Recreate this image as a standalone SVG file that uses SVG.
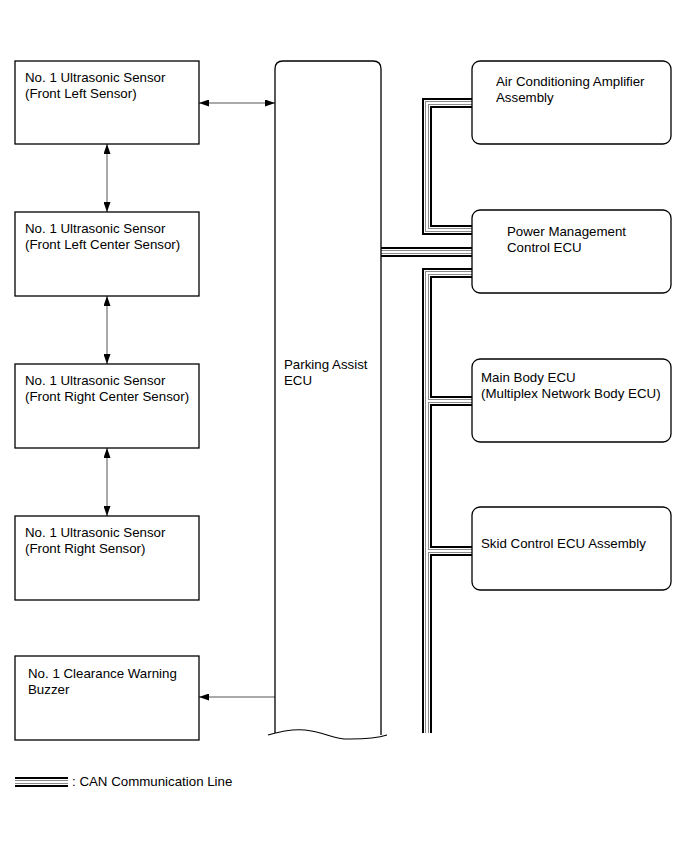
<svg xmlns="http://www.w3.org/2000/svg" xmlns:xlink="http://www.w3.org/1999/xlink" width="689" height="853" viewBox="0 0 689 853">
<style>
.box{fill:#fff;stroke:#000;stroke-width:1.3}
.t{font-family:"Liberation Sans",Arial,sans-serif;font-size:13.3px;fill:#000}
.arr{stroke:#555;stroke-width:1;fill:none;marker-start:url(#ah);marker-end:url(#ah)}
.arr1{stroke:#555;stroke-width:1;fill:none;marker-end:url(#ah)}
.c1{fill:none;stroke:#000;stroke-width:10;stroke-linejoin:miter}
.c2{fill:none;stroke:#fff;stroke-width:6;stroke-linejoin:miter}
.c3{fill:none;stroke:#8a8a8a;stroke-width:4;stroke-linejoin:miter}
.c4{fill:none;stroke:#fff;stroke-width:2;stroke-linejoin:miter}
</style>
<defs>
<marker id="ah" viewBox="0 0 10 7" refX="10" refY="3.5" markerWidth="10" markerHeight="7" markerUnits="userSpaceOnUse" orient="auto-start-reverse">
<path d="M0,0 L10,3.5 L0,7 z" fill="#000"/>
</marker>
<path id="can" d="M472,103 H427 V230 H472 M381,252 H472 M472,273 H427 V733 M427,401 H472 M427,551 H472"/>
<path id="leg" d="M15,782 H68"/>
</defs>

<g id="connectors">
<use xlink:href="#can" class="c1"/>
<use xlink:href="#can" class="c2"/>
<use xlink:href="#can" class="c3"/>
<use xlink:href="#can" class="c4"/>
<line class="arr" x1="199" y1="103" x2="275" y2="103"/>
<line class="arr" x1="107" y1="144" x2="107" y2="212"/>
<line class="arr" x1="107" y1="296" x2="107" y2="364"/>
<line class="arr" x1="107" y1="448" x2="107" y2="516"/>
<line class="arr1" x1="275" y1="697" x2="199" y2="697"/>
</g>

<g id="ecu">
<path d="M275,733 V69 Q275,61 283,61 H373 Q381,61 381,69 V735" fill="none" stroke="#000" stroke-width="1.3"/>
<path d="M268,735 C285,730 295,729 305,730 C325,732 335,740 350,739 C365,739 378,738 387,735" fill="none" stroke="#000" stroke-width="1.1"/>
<text class="t" x="284" y="369">Parking Assist</text>
<text class="t" x="284" y="385">ECU</text>
</g>

<g id="sensor-fl">
<rect class="box" x="15" y="61" width="184" height="83"/>
<text class="t" x="25" y="82">No. 1 Ultrasonic Sensor</text>
<text class="t" x="25" y="98">(Front Left Sensor)</text>
</g>
<g id="sensor-flc">
<rect class="box" x="15" y="212" width="184" height="84"/>
<text class="t" x="25" y="233">No. 1 Ultrasonic Sensor</text>
<text class="t" x="25" y="249">(Front Left Center Sensor)</text>
</g>
<g id="sensor-frc">
<rect class="box" x="15" y="364" width="184" height="84"/>
<text class="t" x="25" y="385">No. 1 Ultrasonic Sensor</text>
<text class="t" x="25" y="401">(Front Right Center Sensor)</text>
</g>
<g id="sensor-fr">
<rect class="box" x="15" y="516" width="184" height="84"/>
<text class="t" x="25" y="537">No. 1 Ultrasonic Sensor</text>
<text class="t" x="25" y="553">(Front Right Sensor)</text>
</g>
<g id="buzzer">
<rect class="box" x="15" y="656" width="184" height="84"/>
<text class="t" x="28" y="678">No. 1 Clearance Warning</text>
<text class="t" x="28" y="694">Buzzer</text>
</g>

<g id="ac-amp">
<rect class="box" x="472" y="61" width="199" height="83" rx="8"/>
<text class="t" x="496" y="86">Air Conditioning Amplifier</text>
<text class="t" x="496" y="102">Assembly</text>
</g>
<g id="power-ecu">
<rect class="box" x="472" y="210" width="199" height="83" rx="8"/>
<text class="t" x="507" y="236">Power Management</text>
<text class="t" x="507" y="252">Control ECU</text>
</g>
<g id="main-body-ecu">
<rect class="box" x="472" y="359" width="199" height="83" rx="8"/>
<text class="t" x="481" y="382">Main Body ECU</text>
<text class="t" x="481" y="398">(Multiplex Network Body ECU)</text>
</g>
<g id="skid-ecu">
<rect class="box" x="472" y="507" width="199" height="83" rx="8"/>
<text class="t" x="481" y="548">Skid Control ECU Assembly</text>
</g>

<g id="legend">
<use xlink:href="#leg" class="c1"/>
<use xlink:href="#leg" class="c2"/>
<use xlink:href="#leg" class="c3"/>
<use xlink:href="#leg" class="c4"/>
<text class="t" x="72" y="786">: CAN Communication Line</text>
</g>
</svg>
